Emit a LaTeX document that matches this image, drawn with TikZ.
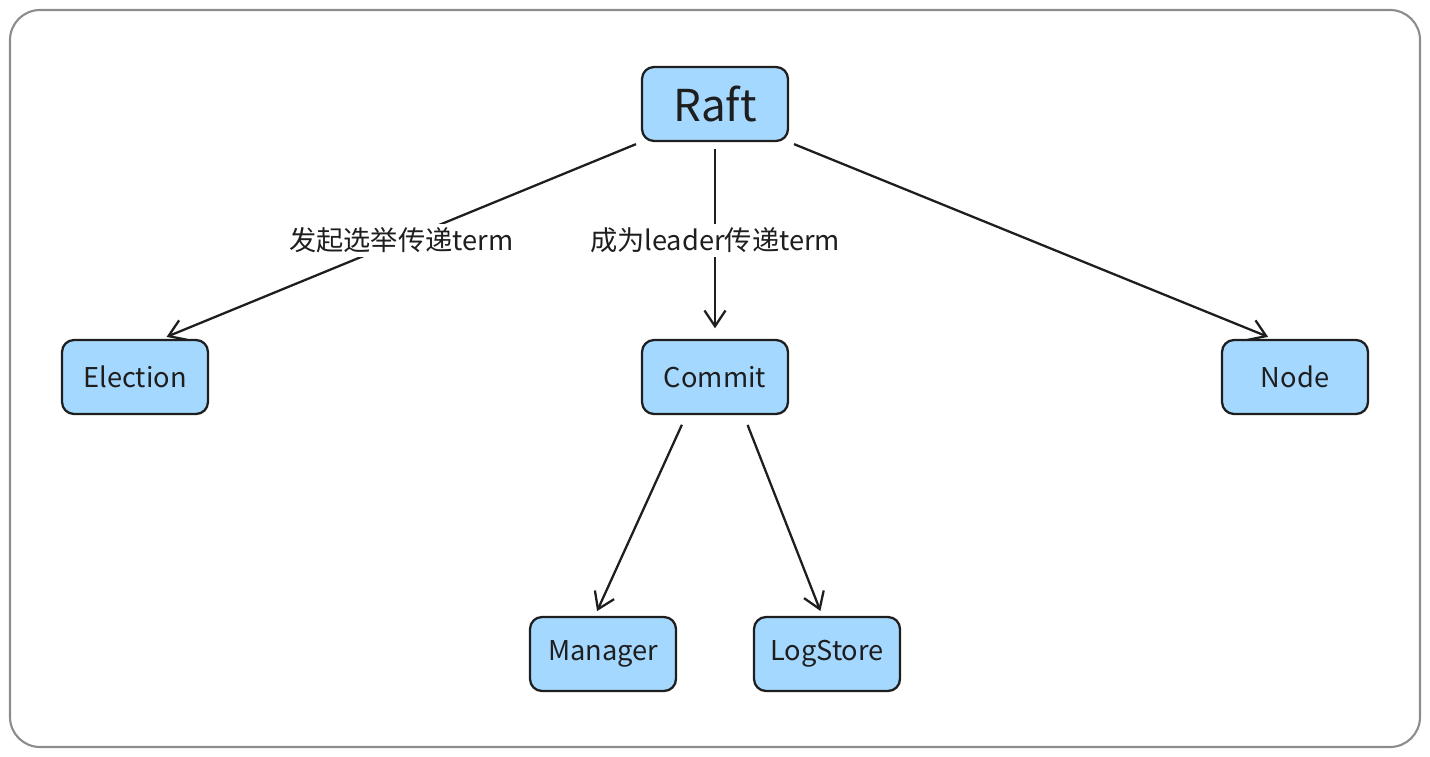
\documentclass[tikz,border=0pt]{standalone}
\usepackage{fontspec}
\setmainfont{Noto Sans CJK SC}
\usetikzlibrary{arrows.meta}
\definecolor{boxblue}{HTML}{A5D8FF}
\definecolor{inkdark}{HTML}{1E1E1E}
\definecolor{framegray}{HTML}{8C8C8C}

\begin{document}
\begin{tikzpicture}[x = 0.02cm , y = -0.02cm,
    box/.style = {draw = inkdark , line width = 1.3pt , fill = boxblue , rounded corners = 0.24cm ,
                  minimum width = 2.92cm , minimum height = 1.48cm , text = inkdark ,
                  font = \fontsize{15.5}{18}\selectfont},
    link/.style = {draw = inkdark , line width = 1.3pt , -{Straight Barb[length = 9pt , width = 12pt]}},
    tag/.style = {fill = white , text = inkdark , inner sep = 2pt , font = \fontsize{15.5}{18}\selectfont}]
    \useasboundingbox (0,0) rectangle (1430,757);
    \draw[framegray , line width = 1.2pt , rounded corners = 0.6cm] (10,10) rectangle (1420,747);

    \node[box , font = \fontsize{25}{28}\selectfont] (raft) at (715,104) {Raft};
    \node[box] (election) at (135,377) {Election};
    \node[box] (commit) at (715,377) {Commit};
    \node[box] (nodebox) at (1295,377) {Node};
    \node[box] (manager) at (603,654) {Manager};
    \node[box] (logstore) at (827,654) {LogStore};

    \draw[link , shorten <= 3pt , shorten >= 3pt] (raft.south west) -- (election.55)
        node[midway , tag]{发起选举传递term};
    \draw[link , shorten <= 4pt , shorten >= 6pt] (raft.south) -- (commit.north)
        node[midway , tag]{成为leader传递term};
    \draw[link , shorten <= 3pt , shorten >= 3pt] (raft.south east) -- (nodebox.120);
    \draw[link , shorten <= 6pt , shorten >= 3pt] (commit.233) -- (manager.102);
    \draw[link , shorten <= 6pt , shorten >= 3pt] (commit.307) -- (logstore.97);
\end{tikzpicture}
\end{document}
